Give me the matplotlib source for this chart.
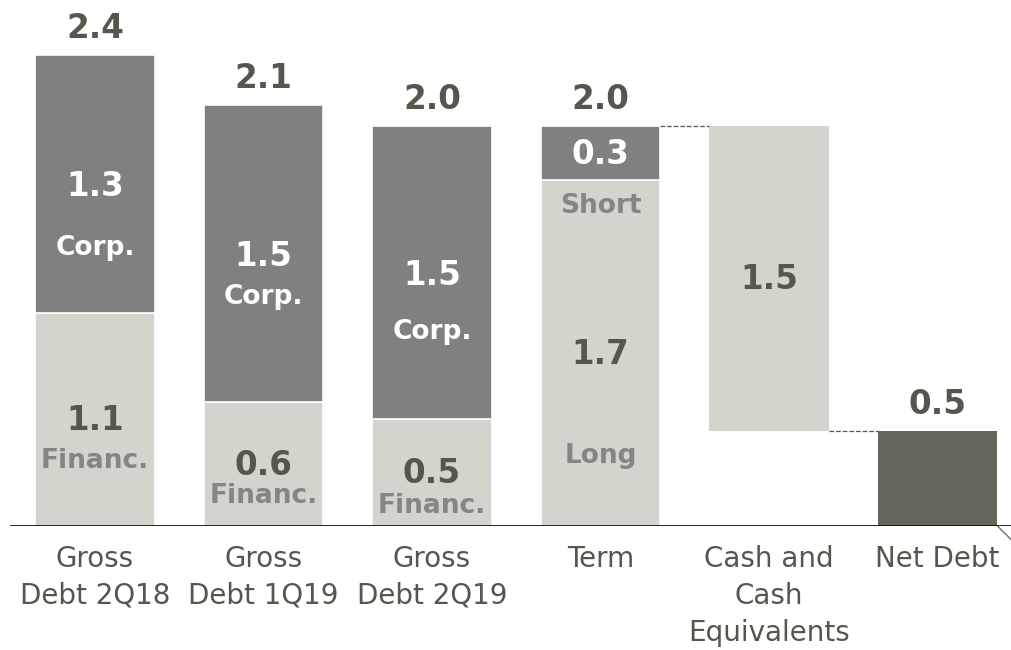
import numpy as np
from matplotlib import pyplot as plt

categories = ['Gross\nDebt 2Q18', 'Gross\nDebt 1Q19', 'Gross\nDebt 2Q19',
              'Term', 'Cash and\nCash\nEquivalents', 'Net Debt']

# gross debt bars: financing part (bottom) and corporate part (top)
financ = [1.085, 0.632, 0.545]
corp = [1.315, 1.513, 1.495]
gross_labels = ['2.4', '2.1', '2.0']
financ_labels = ['1.1', '0.6', '0.5']
corp_labels = ['1.3', '1.5', '1.5']

# term split of gross debt 2Q19
long_term = 1.763
short_term = 0.277
term_labels = ['2.0', '1.7', '0.3']

cash = 1.555
net_debt = 0.485
cash_label = '1.5'
net_label = '0.5'

darkText = '#55574d'
corpColor = '#808080'
lightColor = '#d4d4cc'
netColor = '#65655c'
subColor = '#858585'

fig = plt.figure(figsize=(10.11, 6.5), dpi=100)
ax = fig.add_axes([0, 124/650, 1, 526/650])

x = np.arange(len(categories))
w = 0.712
bigFont = dict(fontsize=23.5, fontweight='bold', ha='center', va='center')
subFont = dict(fontsize=19, fontweight='bold', ha='center', va='center', color=subColor)

def label(xi, y, text, dy=0, **kw):
    ax.annotate(text, (xi, y), xytext=(0, dy), textcoords='offset points', **kw)

# gross debt bars
corpOffsets = [-46, -31, -43]
financOffsets = [-30, -23, -24]
for i in range(3):
    ax.bar(x[i], financ[i], w, color=lightColor, edgecolor='white', linewidth=1.2)
    ax.bar(x[i], corp[i], w, bottom=financ[i], color=corpColor, edgecolor='white', linewidth=1.2)
    total = financ[i] + corp[i]
    label(x[i], total, gross_labels[i], 19, color=darkText, **bigFont)
    cMid = financ[i] + corp[i]/2
    label(x[i], cMid, corp_labels[i], -2, color='white', **bigFont)
    ax.annotate('Corp.', (x[i], cMid), xytext=(0, corpOffsets[i]), textcoords='offset points',
                fontsize=19, fontweight='bold', ha='center', va='center', color='white')
    fMid = financ[i]/2
    label(x[i], fMid, financ_labels[i], -1, color=darkText, **bigFont)
    label(x[i], fMid, 'Financ.', financOffsets[i], **subFont)

# term bar
ax.bar(x[3], long_term, w, color=lightColor, edgecolor='white', linewidth=1.2)
ax.bar(x[3], short_term, w, bottom=long_term, color=corpColor, edgecolor='white', linewidth=1.2)
termTotal = long_term + short_term
label(x[3], termTotal, term_labels[0], 19, color=darkText, **bigFont)
label(x[3], long_term/2, term_labels[1], -1, color=darkText, **bigFont)
label(x[3], long_term/2, 'Long', -74, **subFont)
sMid = long_term + short_term/2
label(x[3], sMid, term_labels[2], -1, color='white', **bigFont)
label(x[3], sMid, 'Short', -38, **subFont)

# cash (floating) and net debt
ax.bar(x[4], cash, w, bottom=net_debt, color=lightColor, linewidth=0)
label(x[4], net_debt + cash/2, cash_label, -1, color=darkText, **bigFont)
ax.bar(x[5], net_debt, w, color=netColor, linewidth=0)
label(x[5], net_debt, net_label, 19, color=darkText, **bigFont)

# connectors
ax.plot([x[3] + w/2, x[4] - w/2], [termTotal, termTotal], '--', color='#55574d', lw=0.9)
ax.plot([x[4] + w/2, x[5] - w/2], [net_debt, net_debt], '--', color='#55574d', lw=0.9)
ax.plot([x[5] + w/2, x[5] + w/2 + 0.083], [0, -0.071], color='#707070', lw=1, clip_on=False)

ax.axhline(0, xmin=11/1011, xmax=1, color='#111111', lw=2)

ax.set_xlim(-95/168.5, (1011 - 95)/168.5)
ax.set_ylim(0, 526/196.25)
ax.set_xticks(x)
ax.set_xticklabels(categories, fontsize=20, color=darkText, linespacing=1.42)
ax.tick_params(axis='x', length=0, pad=13.5)
ax.set_yticks([])
for s in ax.spines.values():
    s.set_visible(False)

fig.savefig('out.png', dpi=100)
